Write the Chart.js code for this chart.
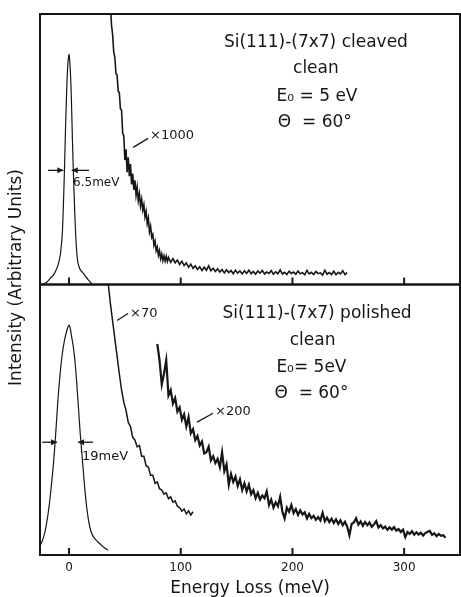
<!DOCTYPE html>
<html>
<head>
	<title>Si(111)-(7x7) energy loss spectra</title>
	<style>
		body { margin: 0; background: #fff; }
		.plot { position: relative; width: 461px; height: 597px; }
	</style>
</head>
<body>
	<div class="plot"><canvas id="eels" width="461" height="597"></canvas></div>

	<script src="https://cdn.jsdelivr.net/npm/chart.js@4.4.0/dist/chart.umd.min.js"></script>
	<script>
		var xTicks = [0, 100, 200, 300];

		// top panel: cleaved surface
		var cleavedPeakE = [-24, -20, -17, -14, -12, -10, -8, -7, -6, -5, -4, -3, -2, -1, 0, 1, 2, 3, 4, 5, 6, 7, 8, 10, 12, 14, 17, 21];
		var cleavedPeakI = [0, 0.8, 2.2, 3.5, 5, 7, 10.5, 14, 19, 30, 44, 60, 73, 82, 85, 80, 70, 54, 40, 28, 18, 11.5, 8, 5.5, 4.5, 3.5, 1.8, 0];

		var cleavedX1000E = [37, 38, 39, 40, 41, 42, 43, 44, 45, 46, 47, 48, 49, 50, 51, 52, 53, 54, 55, 56, 57, 58, 59, 60, 61, 62, 63,
			64, 65, 66, 67, 68, 69, 70, 71, 72, 73, 74, 75, 76, 77, 78, 79, 80, 81, 82, 83, 84, 85, 86, 87, 88, 89, 91, 93, 95, 97, 99,
			101, 103, 105, 107, 109, 111, 113, 115, 117, 119, 121, 123, 125, 127, 129, 131, 133, 135, 137, 139, 141, 143, 145, 147, 149,
			151, 153, 155, 157, 159, 161, 163, 165, 167, 169, 171, 173, 175, 177, 179, 181, 183, 185, 187, 189, 191, 193, 195, 197, 199,
			201, 203, 205, 207, 209, 211, 213, 215, 217, 219, 221, 223, 225, 227, 229, 231, 233, 235, 237, 239, 241, 243, 245, 247, 249];
		var cleavedX1000I = [104, 96, 92.5, 86, 84, 78, 77.5, 71.5, 71, 65, 64.5, 56, 55, 46, 50, 41.5, 47, 40, 44.5, 37, 41, 35, 38.5, 33, 36, 31, 33.5,
			29, 31.5, 27.5, 29.5, 25, 27, 22.5, 24.5, 19.5, 21.5, 17.5, 18.5, 14.5, 16, 12.5, 13.8, 10.8, 12.5, 9.5, 11.2, 8.8, 10.6, 8.7, 10.4, 8.5, 10, 8.2, 9.6, 8, 9, 7.4,
			8.6, 7, 8, 6.4, 7.5, 6, 6.9, 5.6, 6.5, 5.2, 6.4, 5.3, 6.9, 5.1, 6, 4.8, 5.8, 4.6, 5.5, 4.3, 5.4, 4.4, 5.2, 4, 5.3,
			4.2, 5, 3.9, 5.1, 4.1, 5.3, 4, 4.8, 3.8, 5, 4.2, 5.2, 3.9, 4.6, 4.1, 5.1, 3.8, 4.7, 4, 5.4, 3.9, 4.5, 3.7, 4.9, 4.1,
			4.6, 3.8, 5, 4, 4.4, 3.6, 5.2, 3.9, 4.5, 3.7, 4.8, 4, 4.3, 3.5, 5.3, 3.8, 4.4, 3.7, 4.9, 3.6, 4.5, 3.9, 5.1, 3.7, 4.4];

		// bottom panel: polished surface
		var polishedPeakE = [-26, -24, -22, -20, -18, -16, -14, -12, -10, -8, -6, -4, -2, -1, 0, 1, 2, 4, 6, 8, 10, 12, 14, 16, 18, 20, 22, 24, 26, 29, 32, 35];
		var polishedPeakI = [3.4, 5.2, 7.8, 12, 17.5, 25, 33.5, 44.5, 57, 67, 74.5, 79.5, 83, 84.3, 85, 84, 81.5, 76.5, 68.5, 57, 45, 35, 25, 17, 11.5, 8.3, 6.6, 5.6, 4.8, 3.6, 2.6, 1.8];

		var polishedX70E = [35, 37, 39, 41, 43, 45, 47, 49, 51, 53, 55, 57, 59, 61, 63, 65, 67, 69, 71, 73, 75, 77, 79, 81, 83, 85, 87, 89, 91, 93, 95, 97, 99,
			101, 103, 105, 107, 109, 111];
		var polishedX70I = [100.5, 93, 86.5, 80, 73.5, 67, 61, 56.5, 53.5, 49, 47.5, 43.5, 42.5, 40, 40.5, 36.5, 36.5, 33, 32.5, 29.5, 29.5, 26.5, 27, 24.5, 24, 22.5, 23, 20.8, 21.5, 19.5, 20, 18, 17.5,
			16.2, 17, 15.2, 16.3, 14.8, 16];

		var polishedX200E = [79, 81, 83, 85, 87, 89, 91, 93, 95, 97, 99,
			101, 103, 105, 107, 109, 111, 113, 115, 117, 119, 121, 123, 125, 127, 129, 131, 133, 135, 137, 139, 141, 143, 145, 147, 149,
			151, 153, 155, 157, 159, 161, 163, 165, 167, 169, 171, 173, 175, 177, 179, 181, 183, 185, 187, 189, 191, 193, 195, 197, 199,
			201, 203, 205, 207, 209, 211, 213, 215, 217, 219, 221, 223, 225, 227, 229, 231, 233, 235, 237, 239, 241, 243, 245, 247, 249,
			251, 253, 255, 257, 259, 261, 263, 265, 267, 269, 271, 273, 275, 277, 279, 281, 283, 285, 287, 289, 291, 293, 295, 297, 299,
			301, 303, 305, 307, 309, 311, 313, 315, 317, 319, 321, 323, 325, 327, 329, 331, 333, 335, 337];
		var polishedX200I = [78, 72, 63, 67, 72, 59, 61, 56, 58, 53, 54.5,
			50, 52, 47.5, 51, 45, 46.5, 42.5, 44, 40.5, 42, 37.5, 38, 40, 35, 36.5, 34, 35.5, 32.5, 38, 31, 33.5, 26, 30, 27, 29,
			25.5, 28, 24, 26.5, 23.5, 26, 22.5, 24, 21, 23, 20.5, 22, 21, 23.5, 18.5, 20.5, 17.5, 19.5, 18, 21.5, 16, 13.5, 17.5, 16, 18.5,
			15.5, 17, 14.8, 16.5, 15, 15.8, 13.5, 15.2, 13.6, 14.5, 13, 14, 12.8, 15.6, 12.5, 13.8, 12.2, 13.4, 11.8, 13.2, 11.5, 12.8, 11, 12.3, 10.5,
			7.3, 11.5, 12, 13.6, 11.2, 12.4, 10.8, 12.2, 11, 12, 10.4, 11.3, 12.5, 10.2, 11, 9.8, 10.5, 9.3, 10.2, 9.4, 10.3, 9, 9.6, 8.5, 9.4,
			6.6, 8.5, 7.8, 8.8, 7.5, 8.4, 7.6, 8.2, 7.2, 8.1, 8.6, 8.9, 7.4, 8, 7, 7.8, 7.1, 7.3, 6.4];

		var ink = '#161616';
		var face = '"DejaVu Sans", sans-serif';

		function pairs(es, vs) {
			return es.map(function (e, i) { return { x: e, y: vs[i] }; });
		}

		// frames, inward ticks, labels and arrows drawn on top of the plot
		var notes = {
			id: 'notes',
			afterDraw: function (chart) {
				var c = chart.ctx, a = chart.chartArea, x = chart.scales.x;
				var top = chart.scales.yTop, bot = chart.scales.yBot;
				c.save();
				c.strokeStyle = ink;
				c.fillStyle = ink;
				c.lineWidth = 2;
				[top, bot].forEach(function (s) {
					c.strokeRect(a.left, s.top, a.right - a.left, s.bottom - s.top);
					xTicks.forEach(function (v) {
						var px = x.getPixelForValue(v);
						c.beginPath();
						c.moveTo(px, s.bottom);
						c.lineTo(px, s.bottom - 7);
						c.stroke();
					});
				});

				function text(str, e, v, s, size, align) {
					c.font = size + 'px ' + face;
					c.textAlign = align || 'center';
					c.textBaseline = 'middle';
					c.fillText(str, x.getPixelForValue(e), s.getPixelForValue(v));
				}
				function seg(e1, v1, e2, v2, s) {
					c.lineWidth = 1.3;
					c.beginPath();
					c.moveTo(x.getPixelForValue(e1), s.getPixelForValue(v1));
					c.lineTo(x.getPixelForValue(e2), s.getPixelForValue(v2));
					c.stroke();
				}
				function arrow(e1, e2, v, s) {
					var x1 = x.getPixelForValue(e1), x2 = x.getPixelForValue(e2), y = s.getPixelForValue(v);
					var d = x2 > x1 ? 1 : -1;
					c.lineWidth = 1.3;
					c.beginPath();
					c.moveTo(x1, y);
					c.lineTo(x2, y);
					c.stroke();
					c.beginPath();
					c.moveTo(x2, y);
					c.lineTo(x2 - d * 6, y - 3);
					c.lineTo(x2 - d * 6, y + 3);
					c.closePath();
					c.fill();
				}

				text('Si(111)-(7x7) cleaved', 221, 89.3, top, 17);
				text('clean', 221, 80, top, 17);
				text('E\u2080 = 5 eV', 222, 69.3, top, 17);
				text('\u0398  = 60\u00b0', 220, 60, top, 17);
				text('\u00d71000', 72.5, 55.2, top, 13, 'left');
				seg(57.4, 50.7, 70.8, 54, top);
				text('6.5meV', 3.6, 37.4, top, 12, 'left');
				arrow(-18.8, -5.1, 42.2, top);
				arrow(17.9, 2.4, 42.2, top);

				text('Si(111)-(7x7) polished', 222, 89.3, bot, 17);
				text('clean', 218, 79.3, bot, 17);
				text('E\u2080= 5eV', 217, 69.4, bot, 17);
				text('\u0398  = 60\u00b0', 217, 59.8, bot, 17);
				text('\u00d770', 54.6, 89.3, bot, 13, 'left');
				seg(43, 86.7, 52.8, 89.3, bot);
				text('\u00d7200', 130.7, 53, bot, 13, 'left');
				seg(114.6, 49.1, 128.9, 52.4, bot);
				text('19meV', 11.6, 36.5, bot, 13, 'left');
				arrow(-24, -10.7, 41.7, bot);
				arrow(21.5, 8.1, 41.7, bot);

				// shared y title
				c.translate(17, (a.top + a.bottom) / 2 - 7);
				c.rotate(-Math.PI / 2);
				c.font = '17px ' + face;
				c.textAlign = 'center';
				c.textBaseline = 'middle';
				c.fillText('Intensity (Arbitrary Units)', 0, 0);
				c.restore();
			}
		};

		var hiddenY = {
			type: 'linear', min: 0, max: 100, position: 'left', stack: 'panels', stackWeight: 1,
			ticks: { display: false }, grid: { display: false, drawTicks: false }, border: { display: false }
		};

		var ctx = document.getElementById('eels').getContext('2d');
		var chart = new Chart(ctx, {
			type: 'line',
			data: {
				datasets: [
					{ label: 'cleaved elastic', data: pairs(cleavedPeakE, cleavedPeakI), yAxisID: 'yTop', borderWidth: 1.2, tension: 0.3 },
					{ label: 'cleaved x1000', data: pairs(cleavedX1000E, cleavedX1000I), yAxisID: 'yTop', borderWidth: 1.6 },
					{ label: 'polished elastic', data: pairs(polishedPeakE, polishedPeakI), yAxisID: 'yBot', borderWidth: 1.2, tension: 0.3 },
					{ label: 'polished x70', data: pairs(polishedX70E, polishedX70I), yAxisID: 'yBot', borderWidth: 1.5 },
					{ label: 'polished x200', data: pairs(polishedX200E, polishedX200I), yAxisID: 'yBot', borderWidth: 2.2 }
				]
			},
			options: {
				responsive: false,
				animation: false,
				layout: { padding: { left: 40, right: 1, top: 14, bottom: 0 } },
				elements: { point: { radius: 0 }, line: { borderColor: ink, fill: false } },
				plugins: { legend: { display: false }, tooltip: { enabled: false } },
				scales: {
					x: {
						type: 'linear', min: -26, max: 350,
						afterBuildTicks: function (s) { s.ticks = xTicks.map(function (v) { return { value: v }; }); },
						afterFit: function (s) { s.height = 42; },
						grid: { display: false, drawTicks: false },
						border: { display: false },
						ticks: { color: ink, padding: 7, font: { family: face, size: 12, lineHeight: 1 } },
						title: { display: true, text: 'Energy Loss (meV)', color: ink, padding: { top: 0, bottom: 0 }, font: { family: face, size: 17, lineHeight: 1.0 } }
					},
					yBot: hiddenY,
					yTop: Object.assign({}, hiddenY)
				}
			},
			plugins: [notes]
		});
	</script>
</body>
</html>
